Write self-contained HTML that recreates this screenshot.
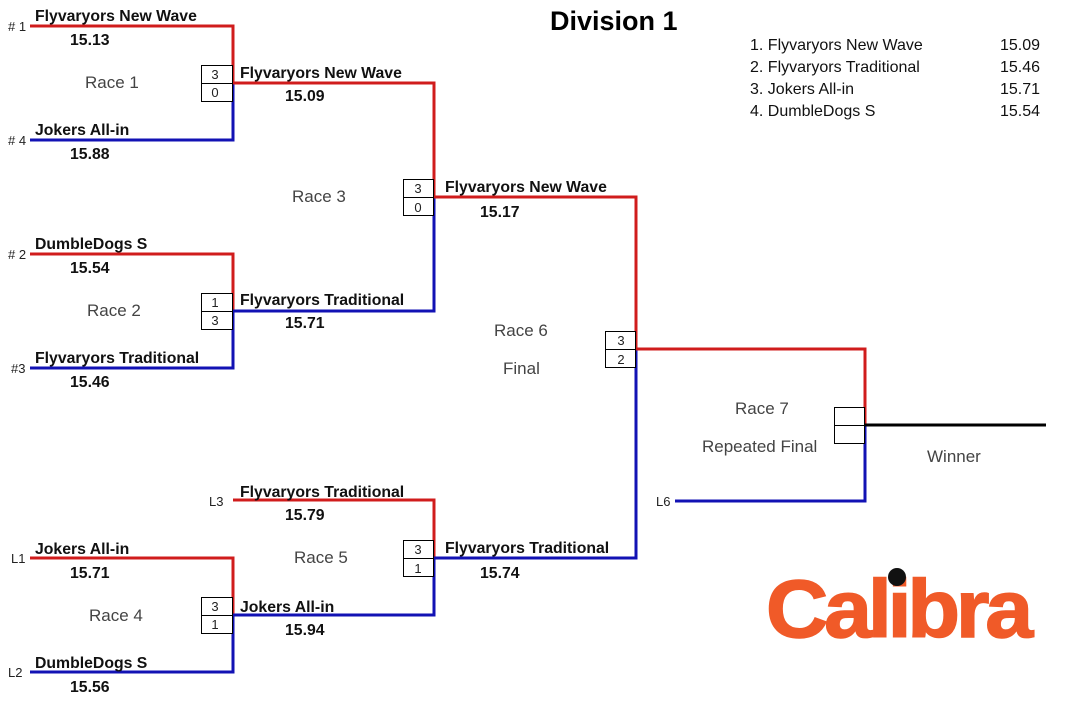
<!DOCTYPE html>
<html><head><meta charset="utf-8"><style>
html,body{margin:0;padding:0;background:#fff;}
svg{display:block;}
text{font-family:"Liberation Sans",Arial,sans-serif;}
.n{font-weight:bold;font-size:15.8px;fill:#111;}
.g{font-size:17px;fill:#444;}
.s{font-size:13px;fill:#222;}
.l{font-size:16px;fill:#111;}
</style></head><body>
<svg width="1088" height="725" viewBox="0 0 1088 725" xmlns="http://www.w3.org/2000/svg">
<g fill="none" stroke-width="3">
<path d="M30 26H233V83" stroke="#d01c1c"/>
<path d="M30 140H233V83" stroke="#1212b4"/>
<path d="M233 83H434V197" stroke="#d01c1c"/>
<path d="M30 254H233V311" stroke="#d01c1c"/>
<path d="M30 368H233V311" stroke="#1212b4"/>
<path d="M233 311H434V197" stroke="#1212b4"/>
<path d="M434 197H636V349" stroke="#d01c1c"/>
<path d="M30 558H233V615" stroke="#d01c1c"/>
<path d="M30 672H233V615" stroke="#1212b4"/>
<path d="M233 615H434V558" stroke="#1212b4"/>
<path d="M233 500H434V558" stroke="#d01c1c"/>
<path d="M434 558H636V349" stroke="#1212b4"/>
<path d="M636 349H865V425" stroke="#d01c1c"/>
<path d="M675 501H865V425" stroke="#1212b4"/>
<path d="M865 425H1046" stroke="#000"/>
</g>
<g fill="#fff" stroke="#000" stroke-width="1">
<rect x="201.5" y="65.5" width="31" height="18"/><rect x="201.5" y="83.5" width="31" height="18"/>
<rect x="201.5" y="293.5" width="31" height="18"/><rect x="201.5" y="311.5" width="31" height="18"/>
<rect x="201.5" y="597.5" width="31" height="18"/><rect x="201.5" y="615.5" width="31" height="18"/>
<rect x="403.5" y="179.5" width="30" height="18"/><rect x="403.5" y="197.5" width="30" height="18"/>
<rect x="403.5" y="540.5" width="30" height="18"/><rect x="403.5" y="558.5" width="30" height="18"/>
<rect x="605.5" y="331.5" width="30" height="18"/><rect x="605.5" y="349.5" width="30" height="18"/>
<rect x="834.5" y="407.5" width="30" height="18"/><rect x="834.5" y="425.5" width="30" height="18"/>
</g>
<g class="s" text-anchor="middle">
<text x="215" y="79">3</text><text x="215" y="97">0</text>
<text x="215" y="307">1</text><text x="215" y="325">3</text>
<text x="215" y="611">3</text><text x="215" y="629">1</text>
<text x="418" y="193">3</text><text x="418" y="212">0</text>
<text x="418" y="554">3</text><text x="418" y="573">1</text>
<text x="621" y="345">3</text><text x="621" y="364">2</text>
</g>
<g class="s">
<text x="8" y="31"># 1</text><text x="8" y="145"># 4</text>
<text x="8" y="259"># 2</text><text x="11" y="373">#3</text>
<text x="209" y="506">L3</text><text x="11" y="563">L1</text><text x="8" y="677">L2</text>
<text x="656" y="506">L6</text>
</g>
<g class="n">
<text x="35" y="21">Flyvaryors New Wave</text><text x="70" y="45">15.13</text>
<text x="35" y="135">Jokers All-in</text><text x="70" y="159">15.88</text>
<text x="240" y="78">Flyvaryors New Wave</text><text x="285" y="101">15.09</text>
<text x="35" y="249">DumbleDogs S</text><text x="70" y="273">15.54</text>
<text x="35" y="363">Flyvaryors Traditional</text><text x="70" y="387">15.46</text>
<text x="240" y="305">Flyvaryors Traditional</text><text x="285" y="328">15.71</text>
<text x="445" y="192">Flyvaryors New Wave</text><text x="480" y="217">15.17</text>
<text x="240" y="497">Flyvaryors Traditional</text><text x="285" y="520">15.79</text>
<text x="35" y="554">Jokers All-in</text><text x="70" y="578">15.71</text>
<text x="35" y="668">DumbleDogs S</text><text x="70" y="692">15.56</text>
<text x="240" y="612">Jokers All-in</text><text x="285" y="635">15.94</text>
<text x="445" y="553">Flyvaryors Traditional</text><text x="480" y="578">15.74</text>
</g>
<g class="g">
<text x="85" y="88">Race 1</text>
<text x="292" y="202">Race 3</text>
<text x="87" y="316">Race 2</text>
<text x="494" y="336">Race 6</text>
<text x="503" y="374">Final</text>
<text x="735" y="414">Race 7</text>
<text x="702" y="452">Repeated Final</text>
<text x="927" y="462">Winner</text>
<text x="294" y="563">Race 5</text>
<text x="89" y="621">Race 4</text>
</g>
<text x="550" y="30" font-size="27" font-weight="bold" fill="#000">Division 1</text>
<g class="l">
<text x="750" y="50">1. Flyvaryors New Wave</text><text x="1000" y="50">15.09</text>
<text x="750" y="72">2. Flyvaryors Traditional</text><text x="1000" y="72">15.46</text>
<text x="750" y="94">3. Jokers All-in</text><text x="1000" y="94">15.71</text>
<text x="750" y="116">4. DumbleDogs S</text><text x="1000" y="116">15.54</text>
</g>
<text x="766" y="637" font-size="82" font-weight="bold" fill="#f05a28" stroke="#f05a28" stroke-width="1.5" letter-spacing="-4" textLength="263" lengthAdjust="spacingAndGlyphs">Calibra</text>
<circle cx="897" cy="577" r="9" fill="#111"/>
</svg>
</body></html>
